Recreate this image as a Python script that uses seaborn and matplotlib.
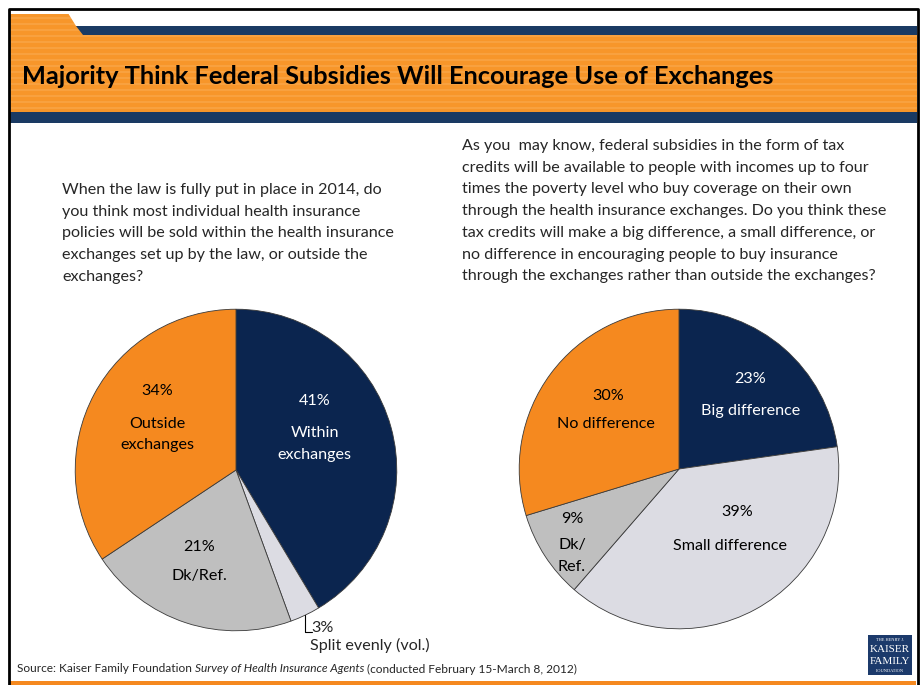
import matplotlib
matplotlib.use("Agg")
import matplotlib.pyplot as plt
import seaborn as sns
import numpy as np
from matplotlib.patches import Rectangle, Polygon

# ---- data -------------------------------------------------------------
left_labels = ["Within\nexchanges", "Split evenly (vol.)", "Dk/Ref.", "Outside\nexchanges"]
left_values = [41, 3, 21, 34]

right_labels = ["Big difference", "Small difference", "Dk/\nRef.", "No difference"]
right_values = [23, 39, 9, 30]

title = "Majority Think Federal Subsidies Will Encourage Use of Exchanges"
left_question = [
    "When the law is fully put in place in 2014, do",
    "you think most individual health insurance",
    "policies will be sold within the health insurance",
    "exchanges set up by the law, or outside the",
    "exchanges?",
]
right_question = [
    "As you  may know, federal subsidies in the form of tax",
    "credits will be available to people with incomes up to four",
    "times the poverty level who buy coverage on their own",
    "through the health insurance exchanges. Do you think these",
    "tax credits will make a big difference, a small difference, or",
    "no difference in encouraging people to buy insurance",
    "through the exchanges rather than outside the exchanges?",
]
source_parts = ["Source: Kaiser Family Foundation ",
                "Survey of Health Insurance Agents",
                " (conducted February 15-March 8, 2012)"]

# ---- style ------------------------------------------------------------
sns.set_theme(style="white")
plt.rcParams["font.family"] = ["Lato", "DejaVu Sans"]

NAVY = "#0b254f"
ORANGE = "#f5891f"
GREY = "#bfbfbf"
LIGHT = "#dcdce3"
pie_colors = sns.color_palette([NAVY, LIGHT, GREY, ORANGE])
text_colors = ["white", "black", "black", "black"]
FS = 11.6

W, H = 922, 685
fig = plt.figure(figsize=(W / 100, H / 100), dpi=100)
fig.patch.set_facecolor("white")

# full-figure canvas in pixel units for header, frame and text
bg = fig.add_axes([0, 0, 1, 1], zorder=0)
bg.set_xlim(0, W)
bg.set_ylim(H, 0)
bg.axis("off")

# header band
HB_ORANGE = "#f7962a"
bg.add_patch(Rectangle((10, 14), 907, 98, color=HB_ORANGE, lw=0))
for yy in range(17, 112, 6):
    bg.add_patch(Rectangle((10, yy), 907, 2, color="#f9a94e", lw=0, alpha=0.6))
bg.add_patch(Polygon([(68, 13), (917, 13), (917, 26), (76, 26)], closed=True,
                     color="white", lw=0))
bg.add_patch(Polygon([(76, 26), (917, 26), (917, 35), (83, 35)], closed=True,
                     color="#1a3a63", lw=0))
bg.add_patch(Rectangle((10, 112), 907, 11, color="#1a3a63", lw=0))
bg.text(22, 76, title, fontsize=18.3, fontweight="bold", color="black",
        va="center", ha="left")

# frame and bottom rule
bg.plot([9, 9, 918, 918], [685, 9, 9, 685], color="black", lw=2, solid_capstyle="butt")
bg.add_patch(Rectangle((10, 681), 906, 4, color=ORANGE, lw=0))

# question texts
for i, line in enumerate(left_question):
    bg.text(62, 190 + i * 21.7, line, fontsize=FS, va="center", ha="left")
for i, line in enumerate(right_question):
    bg.text(462, 146 + i * 21.7, line, fontsize=FS, va="center", ha="left")


def draw_pie(cx, cy, r, values, labels, pct_pos, name_pos):
    ax = fig.add_axes([(cx - r) / W, (H - cy - r) / H, 2 * r / W, 2 * r / H], zorder=2)
    wedges, _ = ax.pie(values, colors=pie_colors, startangle=90, counterclock=False,
                       radius=1, wedgeprops=dict(edgecolor="#3a3a3a", linewidth=0.6))
    ax.set_xlim(-1.02, 1.02)
    ax.set_ylim(-1.02, 1.02)
    ax.set_aspect("equal")
    ax.axis("off")
    for i, (v, lab) in enumerate(zip(values, labels)):
        if pct_pos[i] is None:
            continue
        ax.text(*pct_pos[i], f"{v}%", ha="center", va="center", fontsize=FS,
                color=text_colors[i])
        ax.text(*name_pos[i], lab, ha="center", va="center", fontsize=FS,
                color=text_colors[i], linespacing=1.7)
    return ax, wedges


left_ax, left_w = draw_pie(
    236, 470, 164, left_values, left_labels,
    pct_pos=[(0.49, 0.43), None, (-0.23, -0.48), (-0.49, 0.49)],
    name_pos=[(0.49, 0.16), None, (-0.23, -0.66), (-0.49, 0.22)],
)
# leader for the small "split evenly" slice
w = left_w[1]
mid = np.deg2rad((w.theta1 + w.theta2) / 2)
x0, y0 = np.cos(mid), np.sin(mid)
left_ax.plot([x0, x0, x0 + 0.04], [y0, -1.01, -1.01], color="black", lw=0.8,
             clip_on=False)
left_ax.text(x0 + 0.04, -0.985, f"{left_values[1]}%", ha="left", va="center",
             fontsize=FS, clip_on=False)
left_ax.text(x0 + 0.03, -1.09, left_labels[1], ha="left", va="center",
             fontsize=FS, clip_on=False)

draw_pie(
    679, 469, 163, right_values, right_labels,
    pct_pos=[(0.448, 0.564), (0.362, -0.27), (-0.67, -0.31), (-0.44, 0.454)],
    name_pos=[(0.448, 0.362), (0.32, -0.48), (-0.67, -0.545), (-0.46, 0.28)],
)

# source line with italic survey name
fig.canvas.draw()
renderer = fig.canvas.get_renderer()
x = 17
inv = bg.transData.inverted()
for part, style in zip(source_parts, ["normal", "italic", "normal"]):
    t = bg.text(x, 669, part, fontsize=8.6, style=style, va="center", ha="left")
    bb = t.get_window_extent(renderer)
    x = inv.transform((bb.x1, bb.y0))[0]

# foundation logo
bg.add_patch(Rectangle((868, 635), 44, 40, color="#1c3a6b", lw=0))
serif = ["Liberation Serif", "DejaVu Serif"]
bg.text(890, 640, "THE HENRY J.", family=serif, fontsize=3.2, color="white",
        ha="center", va="center")
bg.text(890, 650, "KAISER", family=serif, fontsize=8, color="white",
        ha="center", va="center")
bg.text(890, 661, "FAMILY", family=serif, fontsize=8, color="white",
        ha="center", va="center")
bg.text(890, 671, "FOUNDATION", family=serif, fontsize=3.2, color="white",
        ha="center", va="center")

fig.savefig("out.png", dpi=100)
